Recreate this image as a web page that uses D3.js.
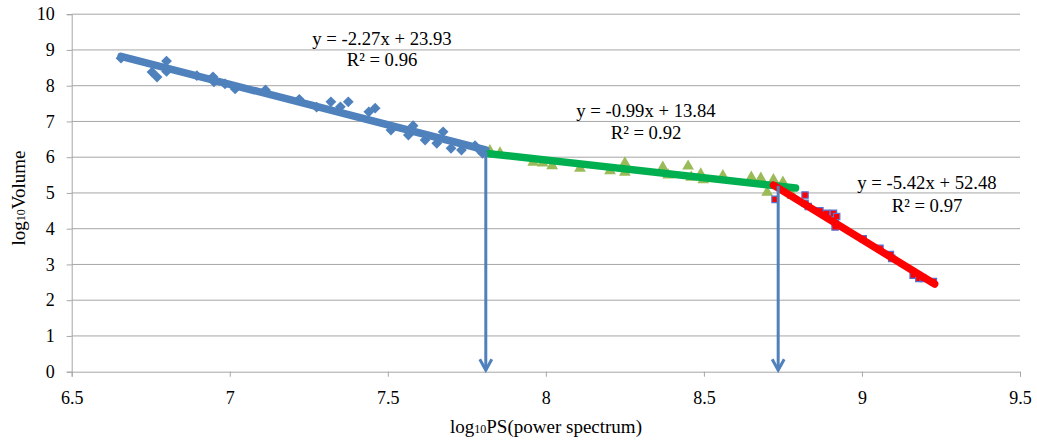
<!DOCTYPE html>
<html>
<head>
<meta charset="utf-8">
<script src="https://cdn.jsdelivr.net/npm/d3@7"></script>
<style>
  html, body { margin: 0; padding: 0; background: #fff; }
  svg { display: block; }
  text { font-family: "Liberation Serif", "Times New Roman", serif; fill: #000; }
</style>
</head>
<body>
<svg id="chart" width="1037" height="446"></svg>
<script>
// Segment 1: low power spectrum (blue diamonds)
const seg1X = [6.656, 6.754, 6.77, 6.80, 6.80, 6.896, 6.947, 6.95, 6.985, 7.017, 7.113, 7.22, 7.275, 7.32, 7.35, 7.375, 7.44, 7.46, 7.51, 7.58, 7.565, 7.618, 7.655, 7.675, 7.70, 7.733, 7.776, 7.79, 7.80];
const seg1Y = [8.77, 8.38, 8.24, 8.69, 8.40, 8.28, 8.25, 8.11, 8.05, 7.91, 7.88, 7.62, 7.40, 7.55, 7.41, 7.55, 7.27, 7.37, 6.76, 6.88, 6.62, 6.48, 6.39, 6.71, 6.25, 6.20, 6.32, 6.20, 6.11];

// Segment 2: middle range (green triangles)
const seg2X = [7.823, 7.855, 7.96, 7.99, 8.02, 8.108, 8.203, 8.25, 8.25, 8.37, 8.387, 8.45, 8.46, 8.49, 8.498, 8.56, 8.65, 8.68, 8.72, 8.70, 8.75, 8.78];
const seg2Y = [6.15, 6.09, 5.83, 5.81, 5.73, 5.66, 5.59, 5.81, 5.55, 5.69, 5.47, 5.72, 5.41, 5.50, 5.34, 5.45, 5.41, 5.38, 5.34, 4.99, 5.27, 4.90];

// Segment 3: high power spectrum (red squares)
const seg3X = [8.725, 8.82, 8.82, 8.83, 8.867, 8.888, 8.91, 8.915, 8.92, 8.915, 9.004, 9.057, 9.09, 9.094, 9.162, 9.18, 9.194, 9.226];
const seg3Y = [4.82, 4.94, 4.71, 4.62, 4.50, 4.43, 4.43, 4.20, 4.34, 4.05, 3.72, 3.45, 3.28, 3.17, 2.70, 2.61, 2.61, 2.52];

// Linear fits: slope, intercept, R², x extent
const fitSlopes = [-2.27, -0.99, -5.42];
const fitIntercepts = [23.93, 13.84, 52.48];
const fitR2 = [0.96, 0.92, 0.97];
const fitFrom = [6.656, 7.82, 8.72];
const fitTo = [7.81, 8.79, 9.23];

// Breakpoint arrows
const arrowX = [7.81, 8.735];
const arrowTop = [6.15, 5.2];

// Axis ticks
const xTicks = [6.5, 7, 7.5, 8, 8.5, 9, 9.5];
const yTicks = [0, 1, 2, 3, 4, 5, 6, 7, 8, 9, 10];

const svg = d3.select("#chart");
const plotLeft = 71.7, plotRight = 1020, plotTop = 14.2, plotBottom = 371.7;

const x = d3.scaleLinear().domain([6.5, 9.5]).range([plotLeft, plotRight]);
const y = d3.scaleLinear().domain([0, 10]).range([plotBottom, plotTop]);

// Horizontal gridlines
svg.append("g").selectAll("line").data(yTicks.filter(d => d > 0)).join("line")
  .attr("x1", plotLeft).attr("x2", plotRight)
  .attr("y1", d => y(d)).attr("y2", d => y(d))
  .attr("stroke", "#a6a6a6").attr("stroke-width", 1);

// Y axis
const yAxis = svg.append("g").attr("transform", `translate(${plotLeft},0)`)
  .call(d3.axisLeft(y).tickValues(yTicks).tickSize(5).tickPadding(12).tickFormat(d3.format("d")));
// X axis
const xAxis = svg.append("g").attr("transform", `translate(0,${plotBottom})`)
  .call(d3.axisBottom(x).tickValues(xTicks).tickSize(5).tickPadding(15).tickFormat(d => String(d)));

[yAxis, xAxis].forEach(g => {
  g.select(".domain").attr("stroke", "#a6a6a6").attr("stroke-width", 1);
  g.selectAll(".tick line").attr("stroke", "#a6a6a6");
  g.selectAll("text").attr("font-family", "Liberation Serif").attr("font-size", 18).attr("fill", "#000");
});
xAxis.selectAll(".tick text").attr("dy", "0.71em");

// Markers
const blue = "#4f81bd", olive = "#9bbb59", red = "#ff0000";
const diamond = d3.symbol().type(d3.symbolSquare).size(58);
svg.append("g").selectAll("path").data(d3.zip(seg1X, seg1Y)).join("path")
  .attr("d", diamond)
  .attr("transform", d => `translate(${x(d[0])},${y(d[1])}) rotate(45)`)
  .attr("fill", blue);

const tri = d3.symbol().type(d3.symbolTriangle).size(60);
svg.append("g").selectAll("path").data(d3.zip(seg2X, seg2Y)).join("path")
  .attr("d", tri)
  .attr("transform", d => `translate(${x(d[0])},${y(d[1]) - 1})`)
  .attr("fill", olive);

const sq = d3.symbol().type(d3.symbolSquare).size(40);
svg.append("g").selectAll("path").data(d3.zip(seg3X, seg3Y)).join("path")
  .attr("d", sq)
  .attr("transform", d => `translate(${x(d[0])},${y(d[1])})`)
  .attr("fill", red).attr("stroke", "#5b6fd0").attr("stroke-width", 1.2);

// Trend lines
const fitColors = [blue, "#00b050", red];
const line = d3.line().x(d => x(d[0])).y(d => y(d[1]));
fitSlopes.forEach((m, i) => {
  const pts = [fitFrom[i], fitTo[i]].map(v => [v, m * v + fitIntercepts[i]]);
  svg.append("path").attr("d", line(pts))
    .attr("fill", "none").attr("stroke", fitColors[i])
    .attr("stroke-width", 7.5).attr("stroke-linecap", "round");
});

// Breakpoint arrows down to the x axis
arrowX.forEach((v, i) => {
  const ax = x(v), y0 = y(arrowTop[i]), y1 = y(0) - 1.5;
  svg.append("line").attr("x1", ax).attr("x2", ax).attr("y1", y0).attr("y2", y1)
    .attr("stroke", blue).attr("stroke-width", 3);
  svg.append("path")
    .attr("d", `M${ax - 6},${y1 - 11} L${ax},${y1} L${ax + 6},${y1 - 11}`)
    .attr("fill", "none").attr("stroke", blue).attr("stroke-width", 3)
    .attr("stroke-linejoin", "miter");
});

// Equation labels (two centred lines each)
const eqPos = [[382, 45, 66], [646, 117, 139], [927, 189, 212]];
fitSlopes.forEach((m, i) => {
  const [cx, ey, ry] = eqPos[i];
  svg.append("text").attr("x", cx).attr("y", ey).attr("text-anchor", "middle")
    .attr("font-size", 18.7)
    .text(`y = ${m.toFixed(2)}x + ${fitIntercepts[i].toFixed(2)}`);
  svg.append("text").attr("x", cx).attr("y", ry).attr("text-anchor", "middle")
    .attr("font-size", 18.7)
    .text(`R² = ${fitR2[i].toFixed(2)}`);
});

// Axis titles
const xt = svg.append("text").attr("x", 546).attr("y", 433).attr("text-anchor", "middle").attr("font-size", 19);
xt.append("tspan").text("log");
xt.append("tspan").attr("font-size", 12).text("10");
xt.append("tspan").text("PS(power spectrum)");

const yt = svg.append("text").attr("transform", "translate(25,198) rotate(-90)")
  .attr("text-anchor", "middle").attr("font-size", 19);
yt.append("tspan").text("log");
yt.append("tspan").attr("font-size", 12).text("10");
yt.append("tspan").text("Volume");
</script>
</body>
</html>
